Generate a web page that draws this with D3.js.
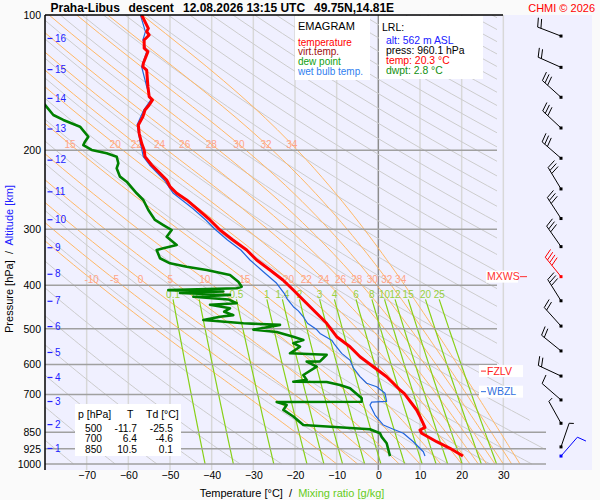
<!DOCTYPE html>
<html>
<head>
<meta charset="utf-8">
<script src="https://cdnjs.cloudflare.com/ajax/libs/d3/7.8.5/d3.min.js"></script>
<style>
  body { margin: 0; background: #fafafa; }
  svg { font-family: "Liberation Sans", Arial, sans-serif; }
  .pre { white-space: pre; }
</style>
</head>
<body>
<svg id="chart" width="600" height="500"></svg>
<script>
// sounding values (pressure hPa, temperature degC)
var tempP = [100, 107.1, 108.9, 110.8, 113.7, 118.6, 120.7, 128.1, 130.4, 132.6, 144.4, 152.0, 154.6, 158.6, 162.8, 168.4, 175.8, 183.4, 193.1, 199.8, 206.8, 215.8, 225.2, 233.1, 241.2, 249.5, 258.2, 269.5, 286.1, 301.2, 317.0, 333.7, 351.3, 369.8, 389.2, 409.7, 424.0, 453.9, 486.0, 520.6, 548.0, 576.8, 607.1, 639.1, 684.2, 695.9, 758.1, 784.6, 828.5, 840.0, 854.3, 892.0, 922.7, 960.1];
var tempT = [-56.8, -55.2, -55.6, -55.0, -56.2, -56.2, -55.3, -56.4, -56.5, -55.6, -55.3, -55.0, -54.2, -55.0, -56.0, -56.5, -57.6, -57.4, -56.8, -56.2, -56.0, -54.4, -52.4, -50.8, -50.0, -48.4, -46.0, -43.6, -40.4, -38.0, -34.9, -31.6, -29.2, -26.0, -22.9, -20.4, -18.8, -15.6, -12.4, -10.0, -6.8, -4.4, -1.2, 2.0, 5.2, 6.2, 9.2, 10.0, 11.2, 10.0, 10.4, 14.0, 17.2, 20.3];

var dewP = [155, 158.6, 167.0, 171.3, 177.3, 186.7, 191.5, 194.8, 199.8, 203.2, 206.8, 213.9, 219.5, 229.1, 235.1, 249.5, 258.2, 271.8, 286.1, 293.6, 301.2, 311.7, 325.3, 330.8, 333.7, 348.2, 357.3, 363.6, 369.8, 379.4, 392.7, 402.8, 406, 410, 413, 416, 420, 424, 430, 438.6, 442, 450, 458, 466, 470, 478, 486, 490, 494.6, 502, 508, 521, 529.5, 538, 548, 566.8, 571, 591, 591.5, 607, 633.6, 649.6, 655.7, 656.5, 667, 678, 714, 726.6, 727.5, 738.9, 757.7, 783.7, 818.7, 837, 854, 870, 899, 960.1];
var dewT = [-81, -80.0, -78.0, -75.6, -71.6, -69.6, -70.4, -70.8, -68.8, -65.2, -62.8, -62.4, -62.8, -62.0, -60.4, -58.0, -56.4, -55.2, -53.6, -51.6, -49.6, -50.8, -48.4, -51.6, -53.2, -52.4, -50.0, -46.0, -41.2, -35.6, -33.6, -32.8, -34.0, -50.4, -37.2, -47.6, -35.6, -44.4, -36.0, -34.0, -40.4, -35.6, -37.0, -34.8, -38.0, -42.0, -32.4, -23.6, -26.0, -30.0, -24.4, -20.4, -18.0, -20.4, -18.8, -21.2, -12.4, -14.0, -17.2, -14.8, -18.0, -17.2, -20.4, -12.4, -9.2, -6.8, -4.0, -4.0, -24.4, -22.0, -22.8, -20.4, -18.0, -2.0, 0.4, 0.8, 2.0, 2.8];

var wbP = [100, 108.9, 113.7, 120.7, 130.4, 144.4, 154.6, 162.8, 175.8, 193.1, 206.8, 215.8, 233.1, 249.5, 269.5, 286.1, 301.2, 317.0, 333.7, 351.3, 373, 395.9, 416.7, 430, 446.4, 456, 470, 486, 502, 512, 530, 540, 567, 587, 611, 639, 661, 673, 696, 725, 728, 739, 778, 819, 837, 854, 892, 939, 960.1];
var wbT = [-57.1, -55.9, -56.5, -55.6, -56.8, -55.6, -54.6, -56.3, -57.9, -57.1, -56.4, -54.9, -51.4, -49.2, -44.6, -41.4, -39.0, -36.2, -33.0, -30.8, -27.6, -24.4, -22.6, -21.8, -20.4, -19.2, -18.0, -17.0, -14.8, -14.0, -11.2, -10.6, -8.8, -6.8, -6.0, -4.4, -2.8, -0.4, 1.6, 2.0, -1.6, -2.0, -0.8, 1.2, 3.6, 6.0, 8.4, 10.8, 11.2];

// wind barbs: pressure, direction (deg), speed (kt)
var windP = [960.1, 916, 811.6, 720, 637, 560, 493, 433, 382.6, 328, 284, 244, 208.5, 178.5, 152.5, 130.8, 111.4];
var windDir = [41, 19, 331, 311, 295, 309, 318, 328, 321, 325, 327, 329, 311, 313, 312, 294, 291];
var windSpd = [10, 5, 5, 10, 20, 20, 20, 30, 40, 30, 30, 30, 30, 30, 30, 20, 20];
var mxwsIndex = 8;

// axes and diagram lines
var pressTicks = [100, 200, 300, 400, 500, 600, 700, 850, 925, 1000];
var tempTicks = [-70, -60, -50, -40, -30, -20, -10, 0, 10, 20, 30];
var isoTemps = [-70, -60, -50, -40, -30, -20, -10, 0, 10, 20, 30];
var altKm = [1, 2, 3, 4, 5, 6, 7, 8, 9, 10, 11, 12, 13, 14, 15, 16];
var altP = [921, 815, 724, 640, 563, 493, 433, 377, 329, 285, 247, 210, 179, 153, 132, 112.5];
var thetaW = [-10, -5, 0, 5, 10, 15, 20, 22, 24, 26, 28, 30, 32, 34];
var thetaWTop = [15, 20, 22, 24, 26, 28, 30, 32, 34];
var mixRatios = [0.1, 0.2, 0.5, 1, 1.4, 2, 3, 4, 6, 8, 10, 12, 15, 20, 25];
var tableRows = [['500', '-11.7', '-25.5'], ['700', '6.4', '-4.6'], ['850', '10.5', '0.1']];
var lrl = { alt: 562, press: 960.1, temp: 20.3, dwpt: 2.8, fzlv: 621, wbzl: 690 };

var svg = d3.select('#chart');
var x = d3.scaleLinear().domain([-80, 40]).range([45, 545]);
var y = d3.scaleLog().domain([100, 1000]).range([15, 464]);

var line = d3.line()
  .x(function(d) { return x(d[1]); })
  .y(function(d) { return y(d[0]); });

var defs = svg.append('defs');
defs.append('clipPath').attr('id', 'diag')
  .append('polygon')
  .attr('points', '45,15 497,15 497,360 546,450 546,470 45,470');
defs.append('clipPath').attr('id', 'plot')
  .append('rect').attr('x', 45).attr('y', 15).attr('width', 547).attr('height', 455);

// background
svg.append('rect')
  .attr('x', 45).attr('y', 15).attr('width', 547).attr('height', 455)
  .attr('fill', '#f0f0ff');

// isotherms
svg.append('g').selectAll('line')
  .data(isoTemps)
  .join('line')
  .attr('x1', function(d) { return x(d); })
  .attr('x2', function(d) { return x(d); })
  .attr('y1', 15).attr('y2', 470)
  .attr('stroke', function(d) { return d === 0 ? '#8c8c8c' : '#d8d8d8'; })
  .attr('stroke-width', 1.5);

var diag = svg.append('g').attr('clip-path', 'url(#diag)');

// dry adiabats
var pSteps = d3.range(100, 1001, 10);
var thetas = d3.range(190, 600, 10);
diag.append('g').selectAll('path')
  .data(thetas)
  .join('path')
  .attr('d', function(th) {
    return line(pSteps.map(function(p) { return [p, th * Math.pow(p / 1000, 0.2857) - 273.15]; }));
  })
  .attr('fill', 'none')
  .attr('stroke', '#cccccc')
  .attr('stroke-width', 1);

// saturated adiabats
function lapse(p, T) {
  var es = 6.112 * Math.exp(17.67 * (T - 273.15) / (T - 29.65));
  var rs = 0.622 * es / (p - es);
  return (287.04 * T + 2.501e6 * rs) /
    (p * (1005.7 + 2.501e6 * 2.501e6 * rs * 0.622 / (287.04 * T * T)));
}
function moistLine(tw) {
  var T = tw + 273.15, p = 1000, dp = -2, pts = [[1000, tw]];
  while (p > 100) {
    var k1 = lapse(p, T);
    var k2 = lapse(p + dp / 2, T + k1 * dp / 2);
    T += k2 * dp;
    p += dp;
    if (p % 2 === 0) pts.push([p, T - 273.15]);
  }
  return pts;
}
var moist = thetaW.map(function(tw) { return { tw: tw, pts: moistLine(tw) }; });
function tempAt(pts, p) {
  for (var i = 0; i < pts.length; i++) {
    if (pts[i][0] <= p) return pts[i][1];
  }
  return pts[pts.length - 1][1];
}

diag.append('g').selectAll('path')
  .data(moist)
  .join('path')
  .attr('d', function(d) { return line(d.pts.filter(function(q, i) { return i % 5 === 0; })); })
  .attr('fill', 'none')
  .attr('stroke', '#ffb866')
  .attr('stroke-width', 1);

// mixing ratio lines
function mixT(w, p) {
  var es = w * p / (622 + w);
  var l = Math.log(es / 6.112);
  return 243.5 * l / (17.67 - l);
}
diag.append('g').selectAll('path')
  .data(mixRatios)
  .join('path')
  .attr('d', function(w) {
    return line(d3.range(430, 1001, 10).map(function(p) { return [p, mixT(w, p)]; }));
  })
  .attr('fill', 'none')
  .attr('stroke', '#88d018')
  .attr('stroke-width', 1.2);

// isobars
svg.append('g').selectAll('line')
  .data(pressTicks.slice(1))
  .join('line')
  .attr('x1', 45)
  .attr('x2', function(p) { return p >= 850 ? 546 : 497; })
  .attr('y1', function(p) { return y(p); })
  .attr('y2', function(p) { return y(p); })
  .attr('stroke', '#a0a0a0')
  .attr('stroke-width', 1.5);

// line labels (placed where the line crosses the label's middle)
var labels = svg.append('g')
  .attr('font-size', 10)
  .attr('text-anchor', 'middle');
labels.selectAll('text.tw')
  .data(moist)
  .join('text')
  .attr('class', 'tw')
  .attr('x', function(d) { return x(tempAt(d.pts, 388)); })
  .attr('y', y(400) - 2)
  .attr('fill', '#ffa488')
  .text(function(d) { return d.tw; });
labels.selectAll('text.tw2')
  .data(moist.filter(function(d) { return thetaWTop.indexOf(d.tw) >= 0; }))
  .join('text')
  .attr('class', 'tw2')
  .attr('x', function(d) { return x(tempAt(d.pts, 194)); })
  .attr('y', y(200) - 2)
  .attr('fill', '#ffa488')
  .text(function(d) { return d.tw; });
labels.selectAll('text.mr')
  .data(mixRatios)
  .join('text')
  .attr('class', 'mr')
  .attr('x', function(w) { return x(mixT(w, 430)); })
  .attr('y', y(430) - 1)
  .attr('fill', '#98d040')
  .text(function(w) { return w; });

// legend boxes
var leg = svg.append('g').attr('font-size', 10);
leg.append('rect').attr('x', 295).attr('y', 16).attr('width', 75).attr('height', 64).attr('fill', '#ffffff');
leg.append('text').attr('x', 298).attr('y', 30).attr('font-size', 11).attr('fill', '#000').text('EMAGRAM');
[['temperature', '#ff0000'], ['virt.temp.', '#a01010'], ['dew point', '#10a010'], ['wet bulb temp.', '#3080f0']]
  .forEach(function(d, i) {
    leg.append('text').attr('x', 298).attr('y', 45.5 + i * 9.9).attr('fill', d[1]).text(d[0]);
  });

leg.append('rect').attr('x', 379).attr('y', 16).attr('width', 104).attr('height', 63).attr('fill', '#ffffff');
leg.append('text').attr('x', 382).attr('y', 31).attr('font-size', 10.5).attr('fill', '#000').text('LRL:');
[['alt: ' + lrl.alt + ' m ASL', '#2020ff'], ['press: ' + lrl.press + ' hPa', '#000000'],
 ['temp: ' + lrl.temp + ' °C', '#ff0000'], ['dwpt: ' + lrl.dwpt + ' °C', '#109010']]
  .forEach(function(d, i) {
    leg.append('text').attr('x', 386).attr('y', 43.5 + i * 10).attr('font-size', 10.4).attr('fill', d[1]).text(d[0]);
  });

// table
var tab = svg.append('g').attr('font-size', 10.2).attr('fill', '#000');
tab.append('rect').attr('x', 75).attr('y', 404).attr('width', 106).attr('height', 52).attr('fill', '#ffffff');
tab.append('text').attr('x', 78).attr('y', 418).attr('font-size', 10.5).text('p [hPa]');
tab.append('text').attr('x', 127).attr('y', 418).attr('font-size', 10.5).text('T');
tab.append('text').attr('x', 146).attr('y', 418).attr('font-size', 10.5).text('Td [°C]');
tableRows.forEach(function(r, i) {
  var yy = 432 + i * 10.3;
  tab.append('text').attr('x', 102).attr('y', yy).attr('text-anchor', 'end').text(r[0]);
  tab.append('text').attr('x', 137).attr('y', yy).attr('text-anchor', 'end').text(r[1]);
  tab.append('text').attr('x', 173).attr('y', yy).attr('text-anchor', 'end').text(r[2]);
});

// profiles
var prof = svg.append('g').attr('clip-path', 'url(#plot)').attr('fill', 'none')
  .attr('stroke-linejoin', 'round');
prof.append('path')
  .attr('d', line(wbP.map(function(p, i) { return [p, wbT[i]]; })))
  .attr('stroke', '#2266dd').attr('stroke-width', 1.2);
prof.append('path')
  .attr('d', line(tempP.map(function(p, i) { return [p, tempT[i]]; })))
  .attr('stroke', '#ff0000').attr('stroke-width', 3);
prof.append('path')
  .attr('d', line(dewP.map(function(p, i) { return [p, dewT[i]]; })))
  .attr('stroke', '#008000').attr('stroke-width', 2.6);

// level labels
function levelLabel(p, text, color, dashFirst, x0, w) {
  var yy = y(p);
  var g = svg.append('g');
  g.append('rect').attr('x', x0).attr('y', yy - 6).attr('width', w).attr('height', 12).attr('fill', '#ffffff');
  if (dashFirst) {
    g.append('line').attr('x1', 481).attr('x2', 486).attr('y1', yy).attr('y2', yy).attr('stroke', color);
  } else {
    g.append('line').attr('x1', 520).attr('x2', 527).attr('y1', yy).attr('y2', yy).attr('stroke', color);
  }
  g.append('text').attr('x', 487).attr('y', yy + 3.8).attr('font-size', 10.5).attr('fill', color).text(text);
}
levelLabel(windP[mxwsIndex], 'MXWS', '#ff3030', false, 486, 32);
levelLabel(lrl.fzlv, 'FZLV', '#ff2020', true, 479, 44);
levelLabel(lrl.wbzl, 'WBZL', '#3070e0', true, 479, 44);

// wind barbs
var barbs = svg.append('g');
windP.forEach(function(p, i) {
  var color = i === 0 ? '#0000ff' : (i === mxwsIndex ? '#ff0000' : '#000000');
  var px = 561, py = y(p);
  var a = windDir[i] * Math.PI / 180;
  var ux = Math.sin(a), uy = -Math.cos(a);
  var nx = -uy, ny = ux;
  var L = 25;
  var tx = px + ux * L, ty = py + uy * L;
  var g = barbs.append('g').attr('stroke', color).attr('stroke-width', 1);
  g.append('line').attr('x1', px).attr('y1', py).attr('x2', tx).attr('y2', ty);
  var full = Math.floor(windSpd[i] / 10), half = windSpd[i] % 10 >= 5;
  var k = 0;
  for (var j = 0; j < full; j++, k++) {
    var bx = tx - ux * k * 3.5, by = ty - uy * k * 3.5;
    g.append('line').attr('x1', bx).attr('y1', by)
      .attr('x2', bx + 9 * (nx + 0.3 * ux)).attr('y2', by + 9 * (ny + 0.3 * uy));
  }
  if (half) {
    var hx = tx - ux * k * 3.5, hy = ty - uy * k * 3.5;
    g.append('line').attr('x1', hx).attr('y1', hy)
      .attr('x2', hx + 4.5 * (nx + 0.3 * ux)).attr('y2', hy + 4.5 * (ny + 0.3 * uy));
  }
  barbs.append('rect').attr('x', px - 1.5).attr('y', py - 1.5).attr('width', 3).attr('height', 3).attr('fill', color);
});

// frame
svg.append('line').attr('x1', 45).attr('x2', 503).attr('y1', 15).attr('y2', 15)
  .attr('stroke', '#000').attr('stroke-width', 1.5);

// pressure axis
var yAxis = svg.append('g')
  .attr('transform', 'translate(45,0)')
  .call(d3.axisLeft(y).tickValues(pressTicks).tickFormat(d3.format('d')).tickSize(0).tickPadding(4));
yAxis.select('.domain').attr('d', 'M0,15V470').attr('stroke', '#000').attr('stroke-width', 1.5);
yAxis.selectAll('text').attr('font-size', 10.5).attr('font-family', null).attr('fill', '#000');

// altitude ticks
var altAxis = svg.append('g')
  .attr('transform', 'translate(47.5,0)')
  .call(d3.axisRight(y).tickValues(altP).tickFormat(function(d, i) { return altKm[i]; }).tickSize(5).tickPadding(2.5));
altAxis.select('.domain').remove();
altAxis.selectAll('line').attr('stroke', '#2020ff').attr('stroke-width', 1.2);
altAxis.selectAll('text').attr('font-size', 10).attr('font-family', null).attr('fill', '#2020ff');

// temperature axis
var xAxis = svg.append('g')
  .attr('transform', 'translate(0,470)')
  .call(d3.axisBottom(x).tickValues(tempTicks).tickSize(0).tickPadding(2));
xAxis.select('.domain').remove();
xAxis.selectAll('text').attr('font-size', 10.5).attr('font-family', null).attr('fill', '#000');

// axis titles
var xt = svg.append('text').attr('class', 'pre').attr('x', 292).attr('y', 497)
  .attr('text-anchor', 'middle').attr('font-size', 11);
xt.append('tspan').attr('fill', '#000').text('Temperature [°C]  /  ');
xt.append('tspan').attr('fill', '#66cc22').text('Mixing ratio [g/kg]');

var yt = svg.append('text').attr('class', 'pre')
  .attr('transform', 'translate(12.5,259) rotate(-90)')
  .attr('text-anchor', 'middle').attr('font-size', 11);
yt.append('tspan').attr('fill', '#000').text('Pressure [hPa]  /  ');
yt.append('tspan').attr('fill', '#2020ff').text('Altitude [km]');

// title
var title = svg.append('g').attr('font-size', 12).attr('font-weight', 'bold').attr('fill', '#000');
title.append('text').attr('x', 50.5).attr('y', 12).text('Praha-Libus');
title.append('text').attr('x', 128.5).attr('y', 12).text('descent');
title.append('text').attr('x', 183).attr('y', 12).text('12.08.2026 13:15 UTC');
title.append('text').attr('x', 314).attr('y', 12).text('49.75N,14.81E');
svg.append('text').attr('x', 595).attr('y', 11.5).attr('text-anchor', 'end')
  .attr('font-size', 11).attr('fill', '#ff0000').text('CHMI © 2026');
</script>
</body>
</html>
